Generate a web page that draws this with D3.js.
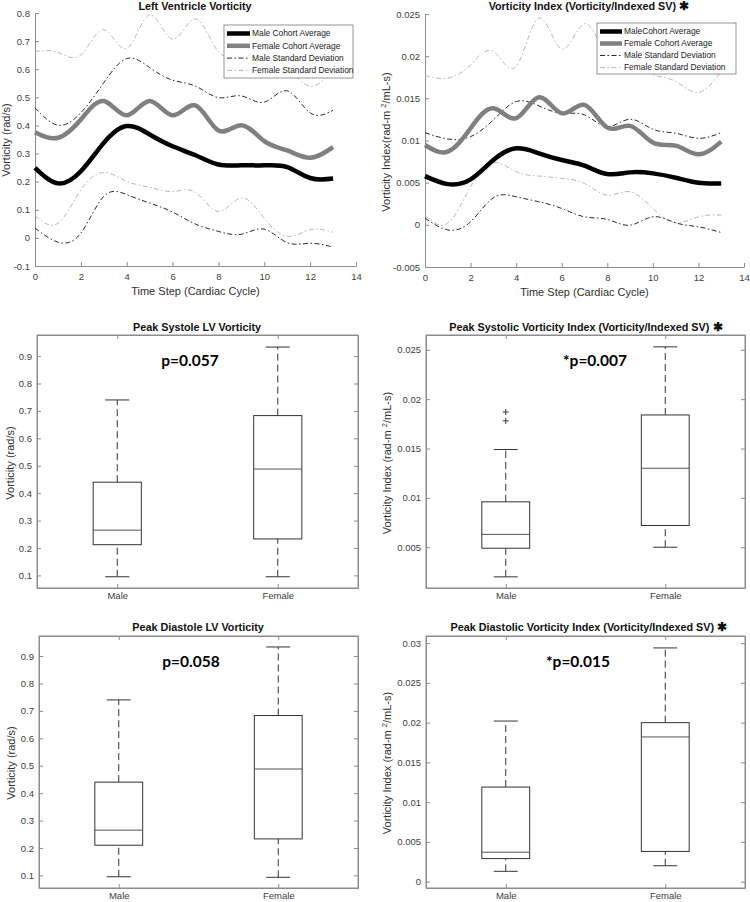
<!DOCTYPE html>
<html>
<head>
<meta charset="utf-8">
<script src="https://cdn.jsdelivr.net/npm/d3@7"></script>
<style>
  body { margin: 0; background: #fff; }
  svg { display: block; font-family: "Liberation Sans", Arial, sans-serif; }
</style>
</head>
<body>
<svg width="750" height="902"></svg>
<script>
// ---- data ----
const steps = [0, 1, 2, 3, 4, 5, 6, 7, 8, 9, 10, 11, 12, 13];

// left ventricle vorticity (rad/s)
const lvMaleAvg = [0.249, 0.194, 0.237, 0.338, 0.398, 0.368, 0.326, 0.294, 0.261, 0.258, 0.258, 0.252, 0.213, 0.211];
const lvFemaleAvg = [0.376, 0.356, 0.421, 0.487, 0.436, 0.487, 0.436, 0.471, 0.382, 0.401, 0.344, 0.311, 0.285, 0.323];
const lvMaleSdHi = [0.463, 0.401, 0.445, 0.552, 0.638, 0.606, 0.561, 0.540, 0.499, 0.505, 0.483, 0.523, 0.445, 0.454];
const lvMaleSdLo = [0.035, -0.015, 0.017, 0.148, 0.154, 0.124, 0.092, 0.049, 0.023, 0.013, 0.031, -0.017, -0.019, -0.033];
const lvFemaleSdHi = [0.663, 0.660, 0.651, 0.740, 0.674, 0.793, 0.707, 0.779, 0.662, 0.650, 0.620, 0.600, 0.540, 0.600];
const lvFemaleSdLo = [0.079, 0.052, 0.171, 0.233, 0.201, 0.180, 0.165, 0.162, 0.094, 0.142, 0.070, 0.005, 0.029, 0.020];

// vorticity index (rad-m2/mL-s)
const viMaleAvg = [0.00578, 0.00483, 0.00539, 0.00769, 0.00907, 0.00848, 0.00769, 0.00701, 0.00602, 0.00622, 0.0061, 0.00559, 0.00499, 0.00491];
const viFemaleAvg = [0.00947, 0.00868, 0.01145, 0.01383, 0.01264, 0.01513, 0.01323, 0.01422, 0.01153, 0.01173, 0.00975, 0.00939, 0.00836, 0.00987];
const viMaleSdHi = [0.01093, 0.01018, 0.01046, 0.01244, 0.01462, 0.0141, 0.01323, 0.01303, 0.01165, 0.01252, 0.01133, 0.01086, 0.01026, 0.01093];
const viMaleSdLo = [0.0008, -0.0006, 0.00036, 0.00321, 0.00333, 0.00273, 0.00194, 0.00095, 0.00064, -0.00004, 0.00095, 0.00024, -0.00024, -0.00091];
const viFemaleSdHi = [0.01771, 0.01739, 0.01898, 0.02056, 0.01878, 0.02452, 0.02084, 0.02385, 0.0200, 0.0188, 0.0178, 0.0170, 0.0157, 0.0182];
const viFemaleSdLo = [0.0011, 0.0002, 0.00452, 0.00737, 0.0063, 0.00578, 0.00551, 0.00491, 0.00353, 0.00392, 0.00194, 0.00024, 0.00095, 0.00115];

const legendLeft = ["Male Cohort Average", "Female Cohort Average", "Male Standard Deviation", "Female Standard Deviation"];
const legendRight = ["MaleCohort Average", "Female Cohort Average", "Male Standard Deviation", "Female Standard Deviation"];

// box plots: [lower whisker, q1, median, q3, upper whisker]
const groups = ["Male", "Female"];
const sysLvMale = [0.095, 0.212, 0.265, 0.44, 0.74];
const sysLvFemale = [0.095, 0.233, 0.488, 0.683, 0.933];
const sysViMale = [0.002, 0.0049, 0.0063, 0.0096, 0.0149];
const sysViFemale = [0.005, 0.0072, 0.013, 0.0184, 0.0253];
const sysViMaleOutliers = [0.0178, 0.0187];
const diaLvMale = [0.095, 0.21, 0.265, 0.44, 0.74];
const diaLvFemale = [0.093, 0.233, 0.488, 0.683, 0.933];
const diaViMale = [0.0013, 0.0029, 0.0037, 0.0119, 0.0202];
const diaViFemale = [0.002, 0.0038, 0.0182, 0.0200, 0.0294];

const lvTicks = [-0.1, 0, 0.1, 0.2, 0.3, 0.4, 0.5, 0.6, 0.7, 0.8];
const viTicks = [-0.005, 0, 0.005, 0.01, 0.015, 0.02, 0.025];
const stepTicks = [0, 2, 4, 6, 8, 10, 12, 14];
const boxLvTicks = [0.1, 0.2, 0.3, 0.4, 0.5, 0.6, 0.7, 0.8, 0.9];
const boxViTicks = [0.005, 0.01, 0.015, 0.02, 0.025];
const boxVi2Ticks = [0, 0.005, 0.01, 0.015, 0.02, 0.025, 0.03];

const svg = d3.select("svg");
svg.append("rect").attr("width", 750).attr("height", 902).attr("fill", "#fff");

const fmt = (d) => String(Math.round(d * 10000) / 10000);
const axisColor = "#8c8c8c";
const tickText = "#404040";

const styleAxis = (g) => {
	g.select(".domain").attr("stroke", axisColor);
	g.selectAll(".tick line").attr("stroke", axisColor);
	g.selectAll(".tick text").attr("fill", tickText).style("font-size", "9.5px");
};

const yLabel = (x, y, parts) => {
	const t = svg.append("text")
		.attr("transform", `translate(${x},${y}) rotate(-90)`)
		.attr("text-anchor", "middle")
		.attr("dy", "0.35em")
		.attr("fill", "#303030")
		.style("font-size", "11px");
	parts.forEach((p) => {
		const s = t.append("tspan").text(p.text);
		if (p.sup) s.attr("baseline-shift", "super").style("font-size", "7.5px");
	});
};

const title = (x, y, text, star) => {
	const t = svg.append("text")
		.attr("x", x).attr("y", y)
		.attr("text-anchor", "middle")
		.style("font-size", "10.8px")
		.style("font-weight", "bold")
		.attr("fill", "#111")
		.text(text);
	if (star) t.append("tspan").text(" ✱").style("font-size", "12px");
};

const lineChart = (c) => {
	const x = d3.scaleLinear().domain([0, 14]).range([c.left, c.right]);
	const y = d3.scaleLinear().domain(c.yDomain).range([c.bottom, c.top]);

	svg.append("g").attr("transform", `translate(${c.left},0)`)
		.call(d3.axisLeft(y).tickValues(c.yTicks).tickFormat(fmt).tickSizeInner(-4).tickSizeOuter(0).tickPadding(5))
		.call(styleAxis);
	svg.append("g").attr("transform", `translate(0,${c.bottom})`)
		.call(d3.axisBottom(x).tickValues(stepTicks).tickSizeInner(-4).tickSizeOuter(0).tickPadding(7))
		.call(styleAxis);

	const line = d3.line().x((d, i) => x(steps[i])).y((d) => y(d)).curve(d3.curveNatural);
	const series = [
		{ v: c.femaleSdHi, color: "#b8b8b8", w: 1, dash: "5,2.5,1.5,2.5" },
		{ v: c.femaleSdLo, color: "#b8b8b8", w: 1, dash: "5,2.5,1.5,2.5" },
		{ v: c.maleSdHi, color: "#2a2a2a", w: 1, dash: "5,2.5,1.5,2.5" },
		{ v: c.maleSdLo, color: "#2a2a2a", w: 1, dash: "5,2.5,1.5,2.5" },
		{ v: c.femaleAvg, color: "#808080", w: 4.5, dash: null },
		{ v: c.maleAvg, color: "#000", w: 4.5, dash: null }
	];
	svg.append("g").selectAll("path")
		.data(series)
		.join("path")
		.attr("d", (s) => line(s.v))
		.attr("fill", "none")
		.attr("stroke", (s) => s.color)
		.attr("stroke-width", (s) => s.w)
		.attr("stroke-dasharray", (s) => s.dash);

	// legend
	const L = c.legend;
	svg.append("rect").attr("x", L.x).attr("y", L.y).attr("width", L.w).attr("height", L.h)
		.attr("fill", "#fff").attr("stroke", "#7a7a7a").attr("stroke-width", 0.8);
	const items = [series[5], series[4], series[2], series[0]];
	const lg = svg.append("g").selectAll("g").data(items).join("g")
		.attr("transform", (d, i) => `translate(${L.x},${L.y + L.row0 + i * L.step})`);
	lg.append("line").attr("x1", 3).attr("x2", L.sample).attr("y1", 0).attr("y2", 0)
		.attr("stroke", (s) => s.color).attr("stroke-width", (s) => s.w).attr("stroke-dasharray", (s) => s.dash);
	lg.append("text").attr("x", L.sample + 2).attr("dy", "0.35em")
		.style("font-size", "8.4px").attr("fill", "#222")
		.text((d, i) => c.labels[i]);

	svg.append("text").attr("x", (c.left + c.right) / 2).attr("y", c.bottom + 29)
		.attr("text-anchor", "middle").style("font-size", "11px").attr("fill", "#303030")
		.text("Time Step (Cardiac Cycle)");
};

const boxChart = (c) => {
	const x = d3.scaleLinear().domain([0.5, 2.5]).range([c.left, c.right]);
	const y = d3.scaleLinear().domain(c.yDomain).range([c.bottom, c.top]);

	svg.append("rect").attr("x", c.left).attr("y", c.top)
		.attr("width", c.right - c.left).attr("height", c.bottom - c.top)
		.attr("fill", "none").attr("stroke", axisColor);

	svg.append("g").attr("transform", `translate(${c.left},0)`)
		.call(d3.axisLeft(y).tickValues(c.yTicks).tickFormat(fmt).tickSizeInner(-4).tickSizeOuter(0).tickPadding(5))
		.call(styleAxis);
	svg.append("g").attr("transform", `translate(${c.right},0)`)
		.call(d3.axisRight(y).tickValues(c.yTicks).tickFormat("").tickSizeInner(-4).tickSizeOuter(0))
		.call(styleAxis);
	svg.append("g").attr("transform", `translate(0,${c.bottom})`)
		.call(d3.axisBottom(x).tickValues([1, 2]).tickFormat((d) => groups[d - 1]).tickSizeInner(-4).tickSizeOuter(0).tickPadding(4))
		.call(styleAxis);
	svg.append("g").attr("transform", `translate(0,${c.top})`)
		.call(d3.axisTop(x).tickValues([1, 2]).tickFormat("").tickSizeInner(-4).tickSizeOuter(0))
		.call(styleAxis);

	const stats = [c.male, c.female];
	const half = 0.15;
	const g = svg.append("g").selectAll("g").data(stats).join("g");
	const cx = (d, i) => x(i + 1);
	// whiskers
	g.append("line").attr("x1", cx).attr("x2", cx)
		.attr("y1", (d) => y(d[0])).attr("y2", (d) => y(d[1]))
		.attr("stroke", "#333").attr("stroke-dasharray", "7,4");
	g.append("line").attr("x1", cx).attr("x2", cx)
		.attr("y1", (d) => y(d[3])).attr("y2", (d) => y(d[4]))
		.attr("stroke", "#333").attr("stroke-dasharray", "7,4");
	// caps
	[0, 4].forEach((k) => {
		g.append("line")
			.attr("x1", (d, i) => x(i + 1 - half / 2)).attr("x2", (d, i) => x(i + 1 + half / 2))
			.attr("y1", (d) => y(d[k])).attr("y2", (d) => y(d[k]))
			.attr("stroke", "#333");
	});
	// boxes
	g.append("rect")
		.attr("x", (d, i) => x(i + 1 - half))
		.attr("width", x(1 + half) - x(1 - half))
		.attr("y", (d) => y(d[3]))
		.attr("height", (d) => y(d[1]) - y(d[3]))
		.attr("fill", "none").attr("stroke", "#333");
	g.append("line")
		.attr("x1", (d, i) => x(i + 1 - half)).attr("x2", (d, i) => x(i + 1 + half))
		.attr("y1", (d) => y(d[2])).attr("y2", (d) => y(d[2]))
		.attr("stroke", "#555");

	if (c.outliers) {
		svg.append("g").selectAll("path").data(c.outliers).join("path")
			.attr("d", (d) => `M${x(1) - 3},${y(d)}h6M${x(1)},${y(d) - 3}v6`)
			.attr("stroke", "#333");
	}

	svg.append("text").attr("x", c.pX).attr("y", c.top + 31)
		.attr("text-anchor", "middle")
		.style("font-family", "Lato, 'Open Sans', sans-serif")
		.style("font-weight", 700).style("font-size", "15.5px").attr("fill", "#000")
		.text(c.p);
};

// ---- top row ----
lineChart({
	left: 35, right: 356, top: 13, bottom: 266,
	yDomain: [-0.1, 0.8], yTicks: lvTicks,
	maleAvg: lvMaleAvg, femaleAvg: lvFemaleAvg,
	maleSdHi: lvMaleSdHi, maleSdLo: lvMaleSdLo,
	femaleSdHi: lvFemaleSdHi, femaleSdLo: lvFemaleSdLo,
	labels: legendLeft,
	legend: { x: 224, y: 25, w: 129, h: 53, row0: 8.5, step: 12.3, sample: 26 }
});
title(195, 10, "Left Ventricle Vorticity");
yLabel(6, 140, [{ text: "Vorticity (rad/s)" }]);

lineChart({
	left: 425, right: 744, top: 14, bottom: 267,
	yDomain: [-0.005, 0.025], yTicks: viTicks,
	maleAvg: viMaleAvg, femaleAvg: viFemaleAvg,
	maleSdHi: viMaleSdHi, maleSdLo: viMaleSdLo,
	femaleSdHi: viFemaleSdHi, femaleSdLo: viFemaleSdLo,
	labels: legendRight,
	legend: { x: 597, y: 23, w: 139, h: 51, row0: 8.5, step: 12, sample: 25 }
});
title(589, 10, "Vorticity Index (Vorticity/Indexed SV)", true);
yLabel(386, 142, [{ text: "Vorticity Index(rad-m " }, { text: "2", sup: true }, { text: "/mL-s)" }]);

// ---- middle row ----
boxChart({
	left: 37, right: 358, top: 335, bottom: 588,
	yDomain: [0.054, 0.977], yTicks: boxLvTicks,
	male: sysLvMale, female: sysLvFemale,
	p: "p=0.057", pX: 190
});
title(197, 331, "Peak Systole LV Vorticity");
yLabel(10, 463, [{ text: "Vorticity (rad/s)" }]);

boxChart({
	left: 426, right: 745, top: 335, bottom: 588,
	yDomain: [0.00087, 0.0265], yTicks: boxViTicks,
	male: sysViMale, female: sysViFemale, outliers: sysViMaleOutliers,
	p: "*p=0.007", pX: 595
});
title(586, 331, "Peak Systolic Vorticity Index (Vorticity/Indexed SV)", true);
yLabel(387, 463, [{ text: "Vorticity Index (rad-m " }, { text: "2", sup: true }, { text: "/mL-s)" }]);

// ---- bottom row ----
boxChart({
	left: 39, right: 358, top: 636, bottom: 888,
	yDomain: [0.054, 0.973], yTicks: boxLvTicks,
	male: diaLvMale, female: diaLvFemale,
	p: "p=0.058", pX: 191
});
title(198, 631, "Peak Diastole LV Vorticity");
yLabel(11, 763, [{ text: "Vorticity (rad/s)" }]);

boxChart({
	left: 426, right: 745, top: 636, bottom: 888,
	yDomain: [-0.0008, 0.0309], yTicks: boxVi2Ticks,
	male: diaViMale, female: diaViFemale,
	p: "*p=0.015", pX: 578
});
title(589, 631, "Peak Diastolic Vorticity Index (Vorticity/Indexed SV)", true);
yLabel(387, 763, [{ text: "Vorticity Index (rad-m " }, { text: "2", sup: true }, { text: "/mL-s)" }]);
</script>
</body>
</html>
